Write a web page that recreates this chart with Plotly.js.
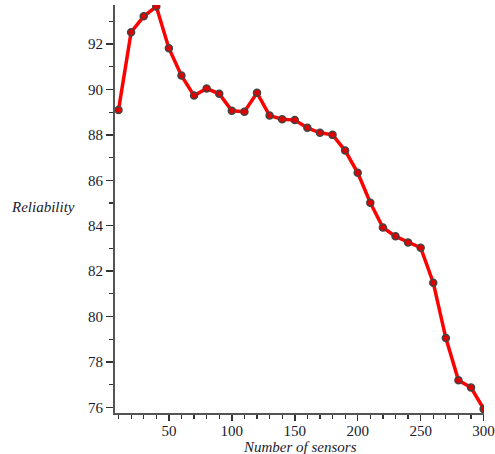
<!DOCTYPE html>
<html>
<head>
<meta charset="utf-8">
<script src="https://cdn.plot.ly/plotly-3.0.1.min.js"></script>
<style>html,body{margin:0;padding:0;background:#fff;}#chart{width:495px;height:454px;}</style>
</head>
<body>
<div id="chart"></div>
<script>
const sensors = [10,20,30,40,50,60,70,80,90,100,110,120,130,140,150,160,170,180,190,200,210,220,230,240,250,260,270,280,290,300];
const reliability = [89.1,92.52,93.22,93.65,91.82,90.61,89.73,90.04,89.81,89.06,89.02,89.85,88.85,88.69,88.65,88.31,88.09,88.0,87.31,86.33,85.01,83.92,83.53,83.26,83.03,81.49,79.05,77.19,76.87,75.93];
const xTickVals = [50,100,150,200,250,300];
const yTickVals = [76,78,80,82,84,86,88,90,92];

const serif = 'Liberation Serif, Times New Roman, serif';
const tickFont = {family: serif, size: 15, color: '#1a1a2e'};

const trace = {
  x: sensors,
  y: reliability,
  type: 'scatter',
  mode: 'lines+markers',
  line: {color: '#ff0000', width: 3.5},
  marker: {size: 7, color: '#e00000', line: {color: '#444', width: 1.5}},
  hoverinfo: 'x+y'
};

const layout = {
  width: 495,
  height: 454,
  margin: {l: 115, r: 11, t: 5, b: 41},
  paper_bgcolor: '#fff',
  plot_bgcolor: '#fff',
  showlegend: false,
  xaxis: {
    range: [7.2, 300.3],
    tickvals: xTickVals,
    ticktext: xTickVals.map(String),
    ticks: 'outside',
    ticklen: 6,
    tickwidth: 1.5,
    tickcolor: '#333',
    showline: true,
    linecolor: '#555',
    linewidth: 2,
    showgrid: false,
    zeroline: false,
    tickfont: tickFont,
    ticklabelstandoff: -3,
    minor: {dtick: 10, tick0: 0, ticks: 'outside', ticklen: 4, tickwidth: 1.2, tickcolor: '#333', showgrid: false}
  },
  yaxis: {
    range: [75.75, 93.72],
    tickvals: yTickVals,
    ticktext: yTickVals.map(String),
    ticks: 'outside',
    ticklen: 7,
    tickwidth: 1.5,
    tickcolor: '#333',
    showline: true,
    linecolor: '#555',
    linewidth: 2,
    showgrid: false,
    zeroline: false,
    tickfont: tickFont,
    minor: {dtick: 1, tick0: 0, ticks: 'outside', ticklen: 4, tickwidth: 1.2, tickcolor: '#333', showgrid: false}
  },
  annotations: [{
    text: 'Reliability',
    xref: 'paper', yref: 'paper',
    x: -0.195, y: 0.505,
    xanchor: 'center', yanchor: 'middle',
    showarrow: false,
    font: {family: serif, size: 15, color: '#1a1a2e', style: 'italic'}
  }, {
    text: 'Number of sensors',
    xref: 'paper', yref: 'paper',
    x: 0.5, y: -0.083,
    xanchor: 'center', yanchor: 'middle',
    showarrow: false,
    font: {family: serif, size: 15, color: '#1a1a2e', style: 'italic'}
  }]
};

Plotly.newPlot('chart', [trace], layout, {displayModeBar: false, staticPlot: true});
</script>
</body>
</html>
